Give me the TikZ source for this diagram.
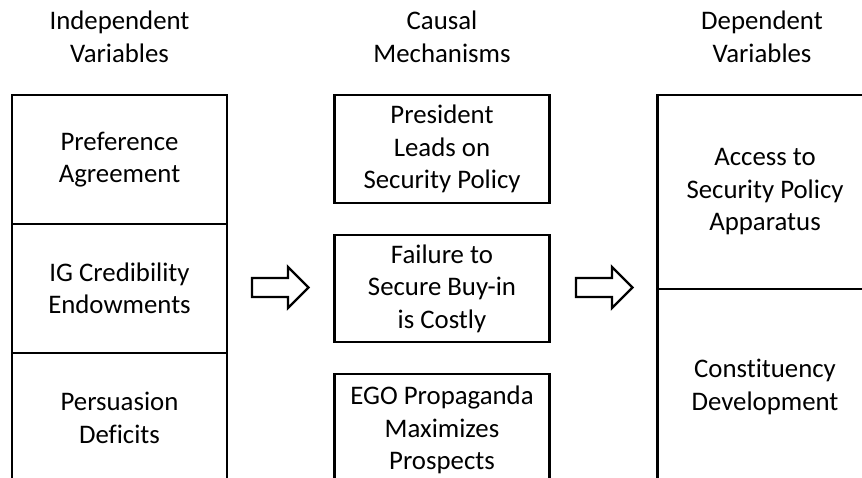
\documentclass[tikz,border=0pt]{standalone}
\usepackage{fontspec}
\setmainfont{Carlito}[Ligatures=CommonOff]
\begin{document}
\begin{tikzpicture}[x=1pt,y=-1pt,
  txt/.style={align=center, font=\fontsize{26.8}{32.5}\selectfont, text=black},
  cell/.style={txt, draw=black, line width=2.7pt, minimum width=215pt, inner sep=0pt},
  blockarrow/.style={draw=black, line width=2.4pt, fill=white, line join=miter}]
  \useasboundingbox (0,0) rectangle (862,478);
  \clip (0,0) rectangle (862,478);

  % column headings
  \node[txt] (hind) at (119.5,37) {Independent\\Variables};
  \node[txt] (hcau) at (442,37) {Causal\\Mechanisms};
  \node[txt] (hdep) at (762,37) {Dependent\\Variables};

  % independent variables (stacked cells)
  \node[cell, minimum height=129pt] (pref) at (119.5,159.5) {Preference\\Agreement};
  \node[cell, minimum height=129pt] (igc)  at (119.5,288.5) {IG Credibility\\Endowments};
  \node[cell, minimum height=130pt] (pers) at (119.5,418)   {Persuasion\\Deficits};

  % causal mechanisms
  \node[cell, minimum height=108pt] (pres) at (442,149)   {President\\Leads on\\Security Policy};
  \node[cell, minimum height=107pt] (fail) at (442,288.5) {Failure to\\Secure Buy-in\\is Costly};
  \node[cell, minimum height=112pt] (ego)  at (442,430)   {EGO Propaganda\\Maximizes\\Prospects};

  % dependent variables
  \node[cell, minimum height=194pt] (acc) at (765,192)   {Access to\\Security Policy\\Apparatus};
  \node[cell, minimum height=196pt] (con) at (765,387)   {Constituency\\Development};

  % block arrows between the columns
  \coordinate (a1) at (252,287.5);
  \coordinate (a2) at (576,287.5);
  \foreach \a in {a1,a2}{
    \draw[blockarrow] ([shift={(0,-9.5)}]\a) -- ++(36,0) -- ++(0,-11)
      -- ++(20.5,20.5) -- ++(-20.5,20.5) -- ++(0,-11) -- ++(-36,0) -- cycle;
  }
\end{tikzpicture}
\end{document}
